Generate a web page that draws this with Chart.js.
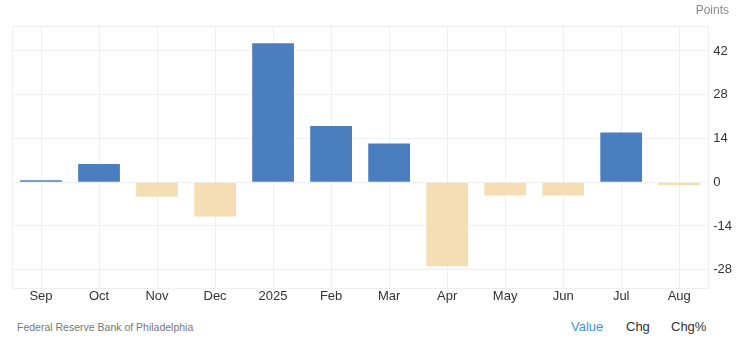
<!DOCTYPE html>
<html>
<head>
<meta charset="utf-8">
<script src="https://cdn.jsdelivr.net/npm/chart.js@4"></script>
<style>
  body { margin: 0; background: #fff; font-family: "Liberation Sans", Arial, sans-serif; }
  #wrap { position: relative; width: 740px; height: 355px; }
  #chart-box { position: absolute; left: 0; top: 0; width: 740px; height: 310px; }
  .txt { position: absolute; white-space: nowrap; }
</style>
</head>
<body>
<div id="wrap">
  <div id="chart-box"><canvas id="grafico-indice"></canvas></div>
  <div class="txt" style="right:11px; top:3px; font-size:12px; color:#8a8a8a;">Points</div>
  <div class="txt" style="left:17px; top:321px; font-size:10.5px; color:#777;">Federal Reserve Bank of Philadelphia</div>
  <div class="txt" style="left:571px; top:319px; font-size:13px; color:#3a96dc;">Value</div>
  <div class="txt" style="left:626px; top:319px; font-size:13px; color:#333;">Chg</div>
  <div class="txt" style="left:671px; top:319px; font-size:13px; color:#333;">Chg%</div>
</div>
<script>
var meses = ["Sep", "Oct", "Nov", "Dec", "2025", "Feb", "Mar", "Apr", "May", "Jun", "Jul", "Aug"];
var valores = [0.6, 5.8, -4.6, -11.0, 44.5, 18.0, 12.4, -26.9, -4.3, -4.3, 15.9, -1.0];
var ticksY = [-28, -14, 0, 14, 28, 42];
var limitesY = [-34, 50];

var corPositiva = "#4a7ebf";
var corNegativa = "#f5deb3";
var corGrade = "#efefef";

var graficoIndice = document
 .getElementById("grafico-indice")
 .getContext("2d");

new Chart(graficoIndice, {
  type: "bar",
  data: {
    labels: meses,
    datasets: [
      {
        label: "Value",
        data: valores,
        backgroundColor: valores.map(function (v) {
          return v >= 0 ? corPositiva : corNegativa;
        }),
        barPercentage: 0.72,
        categoryPercentage: 1,
      },
    ],
  },
  options: {
    responsive: true,
    maintainAspectRatio: false,
    animation: false,
    layout: {
      padding: { left: 12, right: 3, top: 26, bottom: 6 },
    },
    plugins: {
      title: { display: false },
      legend: { display: false },
      tooltip: { enabled: false },
    },
    scales: {
      x: {
        offset: true,
        grid: {
          offset: false,
          color: corGrade,
          drawTicks: false,
        },
        border: { display: true, color: corGrade },
        ticks: {
          padding: 0,
          color: "#333",
          maxRotation: 0,
          autoSkip: false,
          font: { family: "Liberation Sans, Arial", size: 13 },
        },
      },
      y: {
        position: "right",
        min: limitesY[0],
        max: limitesY[1],
        afterBuildTicks: function (axis) {
          var lista = [limitesY[0]].concat(ticksY, [limitesY[1]]);
          axis.ticks = lista.map(function (v) {
            return { value: v };
          });
        },
        grid: {
          color: corGrade,
          drawTicks: false,
        },
        border: { display: true, color: corGrade },
        ticks: {
          padding: 5,
          color: "#333",
          font: { family: "Liberation Sans, Arial", size: 13 },
          callback: function (v) {
            return ticksY.indexOf(v) >= 0 ? v : "";
          },
        },
      },
      yLeft: {
        position: "left",
        min: limitesY[0],
        max: limitesY[1],
        grid: { display: false, drawTicks: false },
        border: { display: true, color: corGrade },
        ticks: { display: false },
      },
    },
  },
});
</script>
</body>
</html>
